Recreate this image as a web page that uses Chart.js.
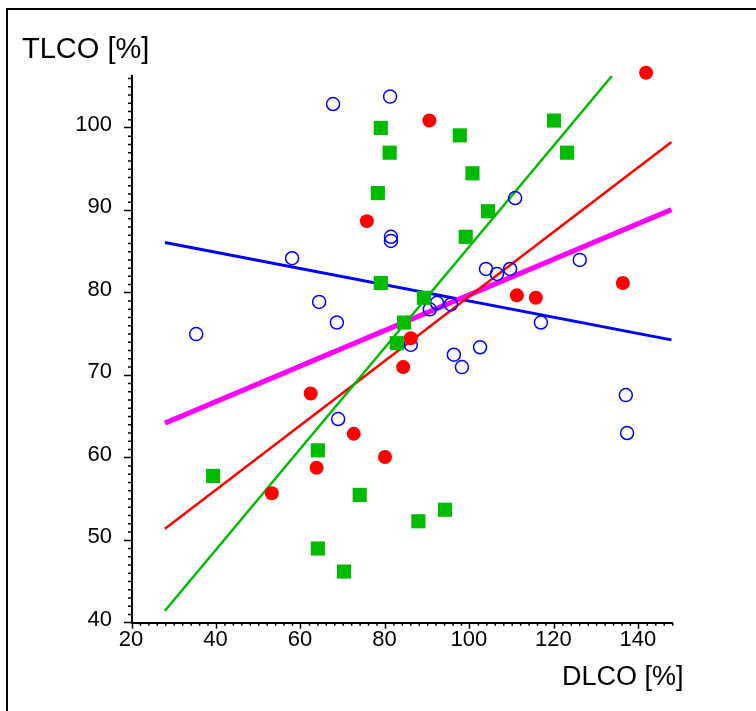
<!DOCTYPE html>
<html>
<head>
<meta charset="utf-8">
<script src="https://cdn.jsdelivr.net/npm/chart.js@4/dist/chart.umd.min.js"></script>
<style>
html,body{margin:0;padding:0;background:#fff;}
#wrap{position:relative;width:756px;height:711px;}
canvas{display:block;}
</style>
</head>
<body>
<div id="wrap"><canvas id="c" width="756" height="711"></canvas></div>
<script>
// ---- data ----
const xTitle = "DLCO [%]";
const yTitle = "TLCO [%]";

const blueX = [35.2, 67.6, 81.1, 57.9, 81.3, 81.3, 64.3, 68.5, 68.8, 86.0, 90.5, 92.2, 95.5, 96.2, 98.1, 102.4, 103.8, 106.4, 109.5, 110.7, 116.8, 126.0, 136.9, 137.2];
const blueY = [75.0, 102.9, 103.8, 84.2, 86.8, 86.3, 78.9, 76.4, 64.7, 73.7, 78.0, 78.8, 78.6, 72.5, 71.0, 73.4, 82.9, 82.3, 82.9, 91.5, 76.4, 84.0, 67.6, 63.0];

const redX = [141.7, 90.4, 75.6, 86.0, 84.2, 62.3, 72.5, 63.7, 79.9, 53.1, 111.1, 115.6, 136.2];
const redY = [106.7, 100.9, 88.7, 74.5, 71.0, 67.8, 62.9, 58.8, 60.1, 55.7, 79.7, 79.4, 81.2];

const greenX = [39.2, 64.0, 64.0, 70.2, 73.9, 87.8, 94.1, 82.7, 84.4, 89.1, 78.9, 78.2, 81.0, 78.9, 97.6, 100.6, 104.3, 99.0, 119.9, 123.0];
const greenY = [57.8, 60.9, 49.0, 46.2, 55.5, 52.3, 53.7, 73.9, 76.4, 79.4, 81.2, 92.1, 97.0, 100.0, 99.1, 94.5, 89.9, 86.8, 100.9, 97.0];

// regression lines (endpoints)
const blueLineX = [27.8, 147.7],   blueLineY = [86.1, 74.3];
const magentaLineX = [27.8, 147.7], magentaLineY = [64.2, 90.1];
const redLineX = [27.8, 147.7],    redLineY = [51.4, 98.3];
const greenLineX = [27.8, 133.6],  greenLineY = [41.45, 106.3];

const xTicks = [20, 40, 60, 80, 100, 120, 140];
const yTicks = [40, 50, 60, 70, 80, 90, 100];

const GREEN = 'rgb(0,187,0)';
const pts = (xs, ys) => xs.map((x, i) => ({x: x, y: ys[i]}));

const decor = {
  id: 'decor',
  afterDraw(chart) {
    const ctx = chart.ctx;
    const xs = chart.scales.x, ys = chart.scales.y;
    const ca = chart.chartArea;
    ctx.save();
    // frame
    ctx.fillStyle = '#000';
    ctx.fillRect(6, 8, 750, 2);
    ctx.fillRect(6, 8, 2, 703);
    // minor ticks
    ctx.strokeStyle = '#000';
    ctx.lineWidth = 1.5;
    ctx.beginPath();
    for (let v = 41; v <= 106; v++) {
      if (v % 10 === 0) continue;
      const p = ys.getPixelForValue(v);
      ctx.moveTo(ca.left - 4, p); ctx.lineTo(ca.left, p);
    }
    for (let v = 22; v <= 148; v += 2) {
      if (v % 20 === 0) continue;
      const p = xs.getPixelForValue(v);
      ctx.moveTo(p, ca.bottom); ctx.lineTo(p, ca.bottom + 3);
    }
    ctx.stroke();
    // axis titles
    ctx.fillStyle = '#000';
    ctx.textBaseline = 'alphabetic';
    ctx.textAlign = 'left';
    ctx.font = '29px "Liberation Sans", Arial, sans-serif';
    ctx.fillText(yTitle, 22, 57.5);
    ctx.font = '27px "Liberation Sans", Arial, sans-serif';
    ctx.fillText(xTitle, 562, 684.5);
    ctx.restore();
  }
};

const tickFont = {family: '"Liberation Sans", Arial, sans-serif', size: 22};

new Chart(document.getElementById('c'), {
  type: 'scatter',
  data: {
    datasets: [
      {data: pts(redX, redY), pointStyle: 'circle', pointRadius: 7, pointBorderWidth: 0,
       backgroundColor: 'rgb(255,0,0)', borderColor: 'rgb(255,0,0)', clip: false},
      {data: pts(greenX, greenY), pointStyle: 'rect', pointRadius: 10, pointBorderWidth: 0,
       backgroundColor: GREEN, borderColor: GREEN, clip: false},
      {data: pts(blueX, blueY), pointStyle: 'circle', pointRadius: 6.5, pointBorderWidth: 1.5,
       backgroundColor: 'rgba(0,0,0,0)', borderColor: 'rgb(0,0,255)', clip: false},
      {data: pts(greenLineX, greenLineY), showLine: true, pointRadius: 0, borderColor: GREEN, borderWidth: 2.5},
      {data: pts(redLineX, redLineY), showLine: true, pointRadius: 0, borderColor: 'rgb(255,0,0)', borderWidth: 2.5},
      {data: pts(magentaLineX, magentaLineY), showLine: true, pointRadius: 0, borderColor: 'rgb(255,0,255)', borderWidth: 5},
      {data: pts(blueLineX, blueLineY), showLine: true, pointRadius: 0, borderColor: 'rgb(0,0,255)', borderWidth: 3}
    ]
  },
  options: {
    responsive: false,
    devicePixelRatio: 1,
    animation: false,
    events: [],
    layout: {padding: {top: 76, right: 83.3, left: 0, bottom: 0}},
    plugins: {legend: {display: false}, tooltip: {enabled: false}, title: {display: false}},
    scales: {
      x: {
        type: 'linear', min: 20, max: 148,
        afterFit(s) { s.height = 711 - 622.7; },
        afterBuildTicks(s) { s.ticks = xTicks.map(v => ({value: v})); },
        grid: {drawOnChartArea: false, drawTicks: true, tickLength: 6, tickWidth: 1.5, tickColor: '#000'},
        border: {display: true, color: '#000', width: 2},
        ticks: {color: '#000', font: tickFont, padding: -2, maxRotation: 0, autoSkip: false, labelOffset: -1}
      },
      y: {
        type: 'linear', min: 40, max: 106.3,
        afterFit(s) { s.width = 132; },
        afterBuildTicks(s) { s.ticks = yTicks.map(v => ({value: v})); },
        grid: {drawOnChartArea: false, drawTicks: true, tickLength: 8, tickWidth: 1.5, tickColor: '#000'},
        border: {display: true, color: '#000', width: 2},
        ticks: {color: '#000', font: tickFont, padding: 12, autoSkip: false, labelOffset: -3}
      }
    }
  },
  plugins: [decor]
});
</script>
</body>
</html>
